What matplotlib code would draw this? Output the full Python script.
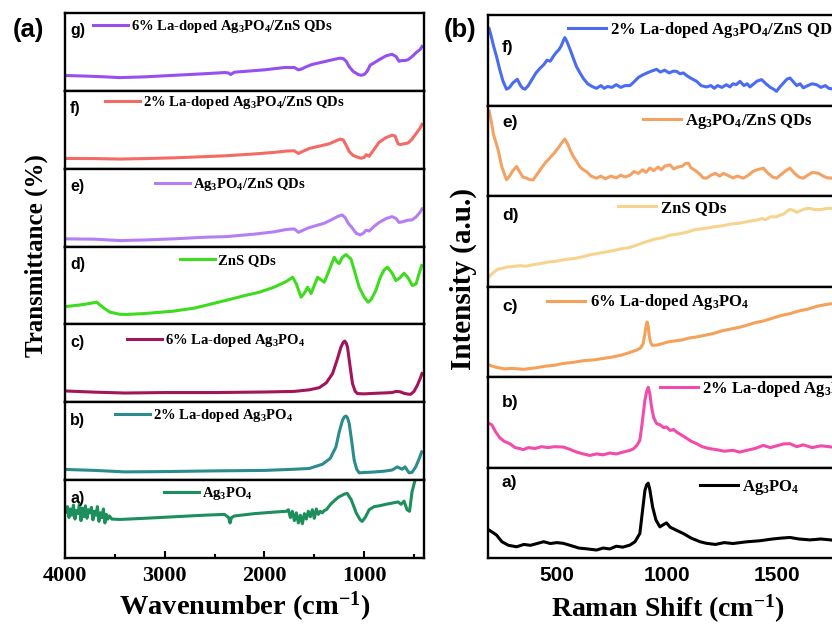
import matplotlib
matplotlib.use("Agg")
import matplotlib.pyplot as plt

plt.rcParams['mathtext.fontset'] = 'custom'
plt.rcParams['mathtext.rm'] = 'Liberation Serif:bold'
plt.rcParams['mathtext.it'] = 'Liberation Serif:bold'
plt.rcParams['mathtext.bf'] = 'Liberation Serif:bold'
SERIF = 'Liberation Serif'
SANS = 'Liberation Sans'

# ---------------- FTIR data (wavenumber, relative transmittance) ----------------
ftir_g_wn = [3990, 3800, 3600, 3450, 3200, 2900, 2600, 2400, 2360, 2340, 2300, 2000, 1800, 1700, 1660,
             1630, 1580, 1520, 1450, 1350, 1280, 1240, 1210, 1180, 1150, 1110, 1060, 1030, 1000, 970,
             940, 900, 850, 780, 720, 680, 650, 620, 590, 560, 520, 480, 440, 420]
ftir_g = [19.7, 19, 18, 17, 18, 20, 22, 23.5, 23, 21, 24, 27, 30, 30, 27,
          28, 31, 34, 36, 39, 41, 42, 41.5, 38, 31, 25, 21, 20, 21, 25,
          33, 36, 40, 45, 47, 44, 38, 39, 39, 40, 44, 49, 53, 57]

ftir_f_wn = [3990, 3700, 3450, 3200, 2900, 2600, 2380, 2100, 1900, 1780, 1700, 1660, 1620, 1550, 1450,
             1350, 1280, 1240, 1210, 1180, 1150, 1110, 1070, 1030, 1000, 980, 950, 900, 850, 780,
             720, 690, 660, 640, 600, 560, 520, 480, 440, 420]
ftir_f = [13.2, 13, 12.4, 13, 14, 15.5, 16.7, 19, 21, 22.7, 23, 19.6, 22, 26, 29,
          32, 36, 38, 37, 30, 22, 17, 15, 13.5, 14.5, 18, 16, 25, 34, 40,
          43, 42, 32, 31, 32, 33, 38, 45, 52, 57]

ftir_e_wn = [3990, 3700, 3450, 3200, 2900, 2600, 2380, 2100, 1900, 1780, 1700, 1660, 1630, 1560, 1480,
             1400, 1320, 1260, 1220, 1190, 1160, 1120, 1080, 1040, 1010, 980, 950, 900, 850, 780,
             720, 680, 650, 610, 560, 520, 480, 440, 420]
ftir_e = [9.9, 9.5, 7.7, 8.5, 10, 12, 12.8, 16, 19, 22, 22.7, 18.3, 20, 24, 27,
          30, 35, 39, 40.6, 37, 30, 24, 17, 15, 17, 21, 20, 26, 31, 36,
          38.5, 36, 31, 32, 34, 34.2, 38, 44, 48.3]

ftir_d_wn = [3990, 3850, 3750, 3683, 3620, 3550, 3450, 3383, 3200, 2917, 2700, 2383, 2200, 2050, 1900,
             1783, 1717, 1680, 1633, 1600, 1567, 1533, 1500, 1467, 1430, 1400, 1350, 1300, 1270, 1250,
             1220, 1183, 1150, 1133, 1100, 1050, 1000, 960, 930, 883, 840, 800, 767, 720, 683,
             640, 600, 560, 517, 480, 450, 423]
ftir_d = [23, 25, 27, 28.6, 22, 15.8, 13, 12.8, 14, 17, 21, 31, 37, 41.4, 48,
          55, 60.6, 52, 35, 40, 47.8, 39.7, 50, 60.6, 57, 54.2, 70, 86.3, 80, 78.2,
          86, 89.7, 86, 84.2, 70, 47.8, 35, 28.6, 32, 43.6, 60, 70, 73.5, 66, 56.4,
          60, 65.8, 60, 50, 52, 65, 75.6]

ftir_c_wn = [3990, 3700, 3400, 3000, 2500, 2000, 1700, 1550, 1450, 1380, 1317, 1270, 1233, 1210, 1195,
             1180, 1167, 1140, 1117, 1090, 1067, 1000, 900, 800, 720, 680, 640, 600, 560, 533,
             500, 467, 440, 420]
ftir_c = [14.5, 13, 11.9, 12.5, 12.5, 13.2, 14, 16, 18.8, 25, 36.8, 55, 70.9, 77, 78.6,
          76, 70.9, 45, 24, 14, 11.2, 10.8, 11.5, 12, 12.5, 14, 13.5, 11.5, 10.5, 10.3,
          14, 21.8, 30, 37]

ftir_b_wn = [3990, 3700, 3400, 3000, 2500, 2000, 1700, 1550, 1417, 1340, 1283, 1250, 1217, 1200, 1183,
             1167, 1150, 1125, 1100, 1075, 1050, 900, 800, 720, 667, 620, 590, 550, 520, 483,
             450, 423]
ftir_b = [13.7, 12.5, 10.6, 11, 11.9, 12.5, 14, 15, 20.5, 28, 42.7, 62, 76.9, 81, 82.4,
          80, 72.7, 50, 25.6, 14, 9.4, 10.5, 11.5, 13, 17, 14, 17, 9.4, 10, 17,
          27, 36.3]

ftir_a_wn = [3990, 3975, 3960, 3945, 3930, 3915, 3900, 3885, 3870, 3855, 3840, 3825, 3810, 3795, 3780,
             3765, 3750, 3735, 3720, 3705, 3690, 3675, 3660, 3645, 3630, 3615, 3600, 3585, 3570, 3555,
             3530, 3450, 3200, 2900, 2600, 2400, 2360, 2345, 2330, 2300, 2100, 1900, 1780, 1760, 1740,
             1720, 1700, 1680, 1660, 1640, 1620, 1600, 1580, 1560, 1540, 1520, 1500, 1480, 1460, 1440,
             1420, 1400, 1380, 1330, 1260, 1200, 1170, 1130, 1080, 1040, 1020, 990, 950, 900, 850,
             780, 700, 660, 630, 600, 570, 545, 520, 490, 470, 440, 420]
ftir_a = [59, 66, 52, 63, 55, 68, 50, 61, 57, 70, 48, 64, 53, 67, 51,
          62, 58, 65, 49, 60, 55, 66, 47, 58, 52, 63, 45, 56, 50, 54,
          50, 49.5, 51, 53, 55, 56, 52, 45, 52, 54, 57, 59, 60, 62, 52,
          60, 48, 58, 45, 55, 44, 57, 50, 60, 53, 62, 51, 63, 56, 60,
          58, 61, 62, 70, 78, 82, 83, 75, 58, 49, 47, 52, 62, 66, 67,
          69, 71, 72, 69, 73, 62, 60, 85, 100, 110, 115, 120]

ftir_names = [r'6% La-doped Ag$_3$PO$_4$/ZnS QDs', r'2% La-doped Ag$_3$PO$_4$/ZnS QDs',
              r'Ag$_3$PO$_4$/ZnS QDs', 'ZnS QDs', r'6% La-doped Ag$_3$PO$_4$',
              r'2% La-doped Ag$_3$PO$_4$', r'Ag$_3$PO$_4$']
ftir_tags = ['g)', 'f)', 'e)', 'd)', 'c)', 'b)', 'a)']
ftir_colors = ['#9650ee', '#f46a65', '#b47ff0', '#3ddc1e', '#a3145a', '#2b8b8d', '#1d8f5c']
ftir_x = [ftir_g_wn, ftir_f_wn, ftir_e_wn, ftir_d_wn, ftir_c_wn, ftir_b_wn, ftir_a_wn]
ftir_y = [ftir_g, ftir_f, ftir_e, ftir_d, ftir_c, ftir_b, ftir_a]
ftir_leg = [(0.078, 0.83), (0.111, 0.846), (0.251, 0.80), (0.32, 0.82),
            (0.173, 0.795), (0.139, 0.833), (0.276, 0.833)]

# ---------------- Raman data (shift, intensity a.u.) ----------------
raman_f_x = [192, 200, 213, 226, 240, 255, 271, 285, 300, 310, 320, 335, 345, 355, 370, 390, 405, 423,
             440, 455, 470, 483, 495, 510, 520, 530, 536, 545, 560, 575, 589, 605, 620, 640, 660, 680,
             700, 715, 730, 750, 770, 790, 810, 832, 850, 870, 892, 910, 930, 953, 970, 990, 1010, 1030,
             1044, 1060, 1075, 1090, 1110, 1135, 1155, 1180, 1200, 1215, 1230, 1250, 1270, 1286, 1300,
             1315, 1332, 1350, 1365, 1377, 1395, 1410, 1430, 1450, 1470, 1485, 1498, 1515, 1530, 1545,
             1559, 1575, 1590, 1605, 1620, 1640, 1660, 1680, 1700, 1720, 1735, 1750, 1780]
raman_f = [85, 78, 65, 54, 40, 27, 18, 20, 25, 27, 29, 22, 19, 18, 22, 30, 36, 41,
           45, 50, 49, 54, 58, 62, 66, 72, 75, 71, 62, 52, 43, 36, 30, 24, 21, 19,
           22, 19, 21, 20, 23, 20, 22, 22, 26, 31, 34, 36, 38, 40, 37, 39, 36, 38,
           37.7, 35, 36, 33, 30, 26.7, 22, 20.5, 22, 19, 22, 20, 23, 20.5, 24,
           23, 26.7, 22, 24, 20.5, 24, 27, 28.6, 24, 20, 18, 15.7, 21, 25, 29,
           30.4, 26, 22, 24, 19.5, 22, 24, 23, 20, 22, 19, 18.4, 20]

raman_e_x = [192, 200, 212, 233, 250, 271, 285, 300, 317, 330, 345, 362, 378, 392, 410, 430, 445, 460,
             475, 490, 506, 520, 536, 550, 562, 574, 590, 605, 620, 635, 655, 680, 700, 720, 745, 770,
             790, 810, 832, 850, 870, 890, 905, 923, 940, 960, 975, 990, 1014, 1030, 1050, 1070, 1085,
             1097, 1110, 1130, 1150, 1165, 1180, 1200, 1220, 1240, 1256, 1275, 1300, 1320, 1347, 1370,
             1390, 1410, 1438, 1460, 1480, 1498, 1520, 1540, 1559, 1580, 1600, 1620, 1640, 1660, 1688,
             1710, 1730, 1750, 1780]
raman_e = [94, 85, 68, 51, 32, 18, 22, 28, 32.6, 27, 21, 19.7, 18, 17.8, 24, 31, 36, 40,
           44, 48, 53, 58, 63, 57, 50, 44, 38, 32, 29, 27, 22, 19.7, 22, 19, 22, 20,
           23, 21, 23, 27, 25, 29, 26, 31, 28, 32, 29, 33, 34.4, 30, 32, 33, 36,
           36.3, 31, 28, 24, 20, 19.7, 23, 25, 22, 25, 23, 20, 22, 19.7, 23,
           27, 29, 30.8, 25, 21, 19.7, 24, 28, 30.8, 25, 21, 19.7, 23, 26, 25.2,
           22, 20, 19.7, 21]

raman_d_x = [192, 210, 230, 250, 271, 300, 330, 360, 390, 423, 460, 500, 540, 580, 620, 650, 680, 720,
             760, 800, 830, 862, 900, 940, 980, 1014, 1050, 1090, 1130, 1170, 1211, 1250, 1290, 1330,
             1370, 1407, 1430, 1450, 1470, 1498, 1515, 1530, 1545, 1559, 1575, 1590, 1610, 1630, 1650,
             1670, 1700, 1725, 1750, 1780]
raman_d = [11, 15, 19, 20, 21.4, 22, 23, 22.5, 24, 25.2, 27, 28, 30, 31, 33, 35, 36.3, 38,
           40, 42, 43, 45.6, 49, 52, 54, 56.7, 58, 60, 63, 64, 65.9, 67, 69, 70,
           72, 73.3, 75, 74, 77, 77, 79, 80, 83, 85.2, 84, 82, 84, 86, 86.3,
           85, 85, 86.3, 86.3, 86]

raman_c_x = [192, 220, 260, 300, 347, 400, 450, 490, 529, 570, 620, 670, 711, 750, 790, 830, 862, 880,
             892, 900, 905, 910, 915, 920, 926, 933, 953, 980, 1010, 1040, 1070, 1100, 1135, 1170, 1210,
             1250, 1290, 1330, 1362, 1400, 1440, 1480, 1520, 1559, 1600, 1640, 1680, 1720, 1750, 1780]
raman_c = [13.2, 11, 9, 9.5, 8.5, 10, 12, 13, 15, 16, 18, 19, 20.5, 22, 24, 27, 29.7, 32,
           37, 48, 56, 60.8, 56, 45, 38, 35, 35.2, 37, 39, 40, 41, 43, 44.3, 46, 48,
           51, 53, 55, 57.1, 60, 62, 65, 68, 70, 73, 75, 78, 80, 81, 82]

raman_b_x = [192, 205, 220, 240, 260, 286, 310, 330, 347, 370, 400, 430, 460, 490, 529, 560, 590, 620,
             650, 680, 710, 740, 770, 800, 832, 850, 865, 877, 888, 900, 908, 915, 922, 930, 940, 953,
             970, 985, 998, 1015, 1030, 1044, 1065, 1085, 1110, 1135, 1160, 1190, 1226, 1260, 1300,
             1330, 1362, 1400, 1438, 1470, 1500, 1530, 1559, 1590, 1620, 1660, 1700, 1750, 1780]
raman_b = [48.6, 47, 40, 33, 29, 26.3, 22, 21, 19.7, 22, 21, 23, 22, 23, 22.6, 20, 17, 15,
           13.3, 15, 14, 16, 15, 17, 18.9, 21, 25, 30, 50, 74.4, 84, 88.6, 82, 67, 55, 48.6,
           47, 44, 44.8, 41, 42, 39.2, 36, 33, 29, 26.3, 23, 21, 19.7, 18, 19,
           17, 18.9, 21, 24.4, 22, 24, 26, 26.3, 23, 25, 22, 24, 22.6, 23]

raman_a_x = [192, 210, 226, 250, 280, 317, 350, 380, 410, 440, 470, 500, 529, 560, 600, 640, 680, 710,
             740, 770, 800, 832, 855, 877, 888, 900, 908, 915, 922, 935, 950, 968, 985, 998, 1015, 1040,
             1074, 1110, 1150, 1180, 1220, 1260, 1300, 1362, 1420, 1480, 1520, 1559, 1600, 1650, 1700,
             1750, 1780]
raman_a = [30.8, 28, 25.3, 18, 14, 12.4, 15, 14, 16, 18, 16, 17, 16.2, 14, 11, 10, 8.8, 11,
           10, 13, 12, 14.3, 18, 27.1, 50, 74.7, 81, 82.7, 76, 56.4, 42, 34.4, 37, 38.8, 34, 31,
           27.1, 22, 18, 16.2, 15, 17, 16, 17.9, 19, 21, 22, 22.7, 21, 20, 21,
           19.8, 20]

raman_names = [r'2% La-doped Ag$_3$PO$_4$/ZnS QDs', r'Ag$_3$PO$_4$/ZnS QDs', 'ZnS QDs',
               r'6% La-doped Ag$_3$PO$_4$', r'2% La-doped Ag$_3$PO$_4$', r'Ag$_3$PO$_4$']
raman_tags = ['f)', 'e)', 'd)', 'c)', 'b)', 'a)']
raman_colors = ['#4a6cf0', '#f4a264', '#f6d48e', '#f4a259', '#f24cab', '#000000']
raman_xs = [raman_f_x, raman_e_x, raman_d_x, raman_c_x, raman_b_x, raman_a_x]
raman_ys = [raman_f, raman_e, raman_d, raman_c, raman_b, raman_a]
raman_leg = [(0.20, 0.835), (0.388, 0.82), (0.326, 0.867), (0.148, 0.824), (0.431, 0.867), (0.531, 0.78)]
raman_tag_y = [0.64, 0.81, 0.79, 0.78, 0.72, 0.835]

W, H = 832, 627
fig = plt.figure(figsize=(W / 100, H / 100), dpi=100)


def box(x0, x1, y0, y1):
    return [x0 / W, 1 - y1 / H, (x1 - x0) / W, (y1 - y0) / H]


def style(ax, bottom):
    for s in ax.spines.values():
        s.set_linewidth(1.7)
    ax.set_yticks([])
    ax.set_ylim(0, 100)
    if not bottom:
        ax.tick_params(axis='x', which='both', bottom=False, labelbottom=False)


# panel (a)
top, bot = 13, 558
hh = (bot - top) / 7
for i in range(7):
    ax = fig.add_axes(box(65, 424, top + i * hh, top + (i + 1) * hh))
    ln, = ax.plot(ftir_x[i], ftir_y[i], color=ftir_colors[i], lw=2.2)
    ax.set_xlim(4000, 400)
    style(ax, i == 6)
    ax.text(0.014, 0.77, ftir_tags[i], transform=ax.transAxes, ha='left', va='center',
            fontsize=11.5, fontweight='bold', family=SANS)
    ax.legend([ln], [ftir_names[i]], loc='center left', bbox_to_anchor=ftir_leg[i], frameon=False,
              borderpad=0, borderaxespad=0, handlelength=2.4, handletextpad=0.2,
              prop=dict(family=SERIF, weight='bold', size=10.5))
    if i == 6:
        ax.set_xticks([4000, 3000, 2000, 1000])
        ax.set_xticks([3500, 2500, 1500, 500], minor=True)
        ax.tick_params(axis='x', which='major', direction='in', length=5, width=1.5, pad=6)
        ax.tick_params(axis='x', which='minor', direction='in', length=3, width=1.5)
        for t in ax.get_xticklabels():
            t.set_family(SERIF)
            t.set_fontweight('bold')
            t.set_fontsize(16)

# panel (b), cut off at the right edge like the source figure
top, bot = 15, 558
hh = (bot - top) / 6
for i in range(6):
    ax = fig.add_axes(box(488, 887, top + i * hh, top + (i + 1) * hh))
    ln, = ax.plot(raman_xs[i], raman_ys[i], color=raman_colors[i], lw=2.2)
    ax.set_xlim(187, 2000)
    style(ax, i == 5)
    ax.text(0.035, raman_tag_y[i], raman_tags[i], transform=ax.transAxes, ha='left', va='center',
            fontsize=12.5, fontweight='bold', family=SANS)
    ax.legend([ln], [raman_names[i]], loc='center left', bbox_to_anchor=raman_leg[i], frameon=False,
              borderpad=0, borderaxespad=0, handlelength=2.3, handletextpad=0.25,
              prop=dict(family=SERIF, weight='bold', size=12))
    if i == 5:
        ax.set_xticks([500, 1000, 1500])
        ax.tick_params(axis='x', which='major', length=0, pad=6)
        for t in ax.get_xticklabels():
            t.set_family(SANS)
            t.set_fontweight('bold')
            t.set_fontsize(15)

fig.text(28 / W, 1 - 30 / H, '(a)', ha='center', va='center', fontsize=18.5, fontweight='bold', family=SANS)
fig.text(460 / W, 1 - 30 / H, '(b)', ha='center', va='center', fontsize=18.5, fontweight='bold', family=SANS)
fig.text(36 / W, 1 - 256 / H, 'Transmittance (%)', rotation=90, ha='center', va='center',
         fontsize=18, fontweight='bold', family=SERIF)
fig.text(463 / W, 1 - 279 / H, 'Intensity (a.u.)', rotation=90, ha='center', va='center',
         fontsize=21, fontweight='bold', family=SERIF)
fig.text(245 / W, 1 - 607 / H, r'Wavenumber (cm$^{-1}$)', ha='center', va='center',
         fontsize=20.5, fontweight='bold', family=SERIF)
fig.text(668 / W, 1 - 609 / H, r'Raman Shift (cm$^{-1}$)', ha='center', va='center',
         fontsize=20, fontweight='bold', family=SERIF)

fig.savefig('out.png', dpi=100)
